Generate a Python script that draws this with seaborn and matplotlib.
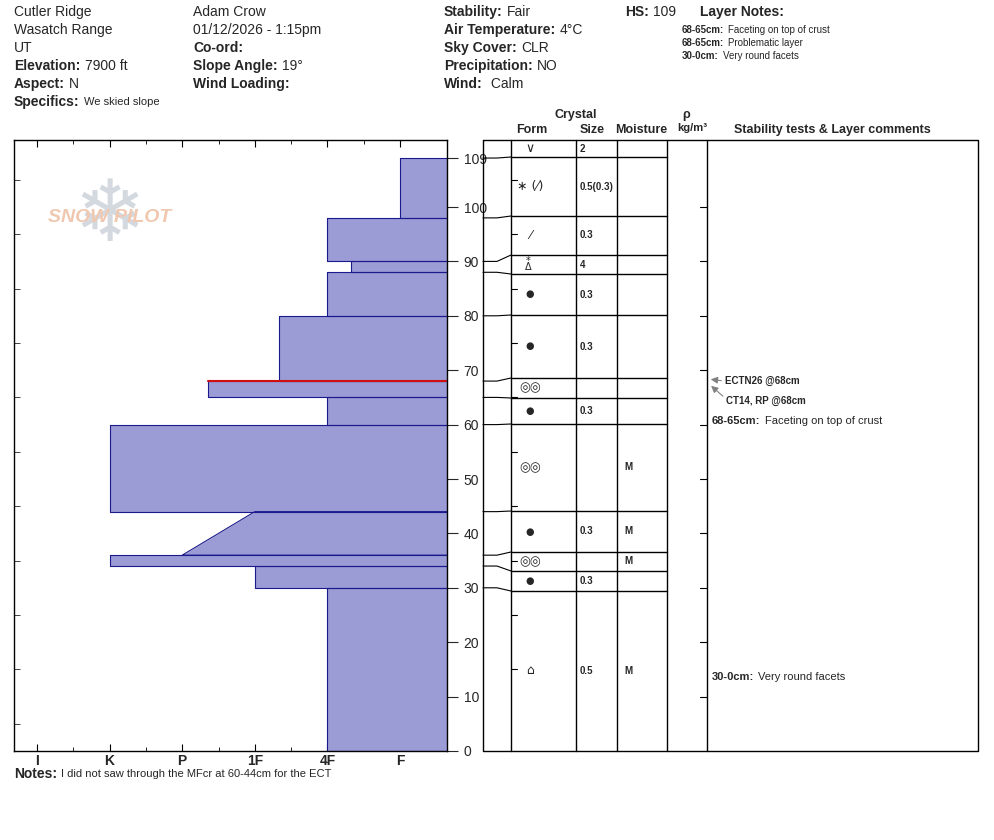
import numpy as np
import seaborn as sns
import matplotlib.pyplot as plt

sns.set_style("white")
plt.rcParams["font.family"] = ["Liberation Sans", "DejaVu Sans"]

# hardness profile (cm top, cm bottom, hardness at top, hardness at bottom); F=1 4F=2 1F=3 P=4 K=5 I=6
layer_top = [109, 98, 90, 88, 80, 68, 65, 60, 44, 36, 34, 30]
layer_bot = [98, 90, 88, 80, 68, 65, 60, 44, 36, 34, 30, 0]
hard_top = [1, 2, 1.67, 2, 2.67, 3.65, 2, 5, 3, 5, 3, 2]
hard_bot = [1, 2, 1.67, 2, 2.67, 3.65, 2, 5, 4, 5, 3, 2]
hard_labels = ["I", "K", "P", "1F", "4F", "F"]
hard_ticks = [6, 5, 4, 3, 2, 1]
crust_line = 68
crust_hard = 3.65

# table rows (form, size, moisture)
row_forms = ["∨", "∗ (⁄)", "⁄", "surface", "●", "●", "◎◎", "●", "◎◎", "●", "◎◎", "●", "⌂"]
row_sizes = ["2", "0.5(0.3)", "0.3", "4", "0.3", "0.3", "", "0.3", "", "0.3", "", "0.3", "0.5"]
row_moist = ["", "", "", "", "", "", "", "", "M", "M", "M", "", "M"]
row_cm = [None, 109, 98, 90, 88, 80, 68, 65, 60, 44, 36, 34, 30]

# layout in pixels
W, H = 994, 840
y0, ytop = 751, 140
px_cm = 5.44
row_px = [140, 157, 216, 255, 274, 315, 378, 398, 424, 511, 552, 571, 591, 751]

fig = plt.figure(figsize=(W / 100, H / 100), dpi=100)

ax = fig.add_axes([14 / W, (H - y0) / H, 433 / W, (y0 - ytop) / H])
for t, b, ht, hb in zip(layer_top, layer_bot, hard_top, hard_bot):
    ax.fill_betweenx([b, t], [hb, ht], 0, color="#9b9bd6", lw=0)
    ax.plot([0.35, hb, ht, 0.35], [b, b, t, t], color="#1a1a8c", lw=0.8)
ax.plot([crust_hard, 0.353], [crust_line, crust_line], color="#d01010", lw=1.5)
ax.set_xticks(hard_ticks)
ax.set_xticklabels(hard_labels, fontweight="bold", fontsize=10)
ax.set_xticks([6 - i * 0.5 for i in range(11)], minor=True)
ax.tick_params(axis="x", which="both", direction="in", top=True, bottom=True, length=5, color="black", pad=2)
ax.tick_params(axis="x", which="minor", length=3)
ax.yaxis.tick_right()
ax.set_yticks(list(range(0, 101, 10)) + [109])
ax.tick_params(axis="y", direction="out", length=8, labelsize=10, right=True, pad=4)
ax.set_yticks(range(5, 110, 5), minor=True)
ax.tick_params(axis="y", which="minor", left=True, right=False, direction="in", length=4)
ax.set_xlim(6.317, 0.353)
ax.set_ylim(0, (y0 - ytop) / px_cm)
for s in ax.spines.values():
    s.set_color("black")
    s.set_linewidth(1)

# logo
ax.text(5.0, 98, "❄", fontsize=62, color="#c8d0d8", ha="center", va="center", family="DejaVu Sans", alpha=0.8, zorder=0)
ax.text(5.0, 98, "SNOW PILOT", fontsize=14, fontweight="bold", color="#f0c8b0", ha="center", va="center",
        fontstyle="italic", zorder=1)

# overlay in pixels
ov = fig.add_axes([0, 0, 1, 1])
ov.set_xlim(0, W)
ov.set_ylim(H, 0)
ov.axis("off")
ov.patch.set_alpha(0)

def cm2px(cm):
    return y0 - cm * px_cm

# table frame
ov.plot([483, 978, 978, 483, 483], [140, 140, 751, 751, 140], color="black", lw=1)
for x in [511, 576, 617, 667, 707]:
    ov.plot([x, x], [140, 751], color="black", lw=1)
for yp in row_px[1:-1]:
    ov.plot([511, 667], [yp, yp], color="black", lw=1)
for cm, yp in zip(row_cm[1:], row_px[1:-1]):
    ov.plot([483, 497, 511], [cm2px(cm), cm2px(cm), yp], color="black", lw=0.8)
for cm in range(10, 110, 10):
    ov.plot([700, 707], [cm2px(cm)] * 2, color="black", lw=0.8)
    ov.plot([511, 517], [cm2px(cm + 5)] * 2, color="black", lw=0.8)

for i, (f, s, m) in enumerate(zip(row_forms, row_sizes, row_moist)):
    yc = (row_px[i] + row_px[i + 1]) / 2
    if f == "surface":
        ov.text(528, yc + 2.5, "Δ", ha="center", va="center", fontsize=7, family="DejaVu Sans")
        ov.text(528, yc - 3.5, "*", ha="center", va="center", fontsize=7, family="DejaVu Sans")
    else:
        fs = 9 if f != "●" else 7
        ov.text(530, yc, f, ha="center", va="center", fontsize=fs, family="DejaVu Sans")
    ov.text(580, yc, s, ha="left", va="center", fontsize=7, fontweight="bold")
    ov.text(624, yc, m, ha="left", va="center", fontsize=7, fontweight="bold")

# headers
ov.text(576, 118, "Crystal", ha="center", fontsize=9, fontweight="bold")
ov.text(532, 133, "Form", ha="center", fontsize=9, fontweight="bold")
ov.text(592, 133, "Size", ha="center", fontsize=9, fontweight="bold")
ov.text(641, 133, "Moisture", ha="center", fontsize=9, fontweight="bold")
ov.text(686, 118, "ρ", ha="center", fontsize=9, fontweight="bold")
ov.text(692, 131, "kg/m³", ha="center", fontsize=8, fontweight="bold")
ov.text(832, 133, "Stability tests & Layer comments", ha="center", fontsize=9, fontweight="bold")

# stability tests
ov.annotate("", xy=(708, 379), xytext=(724, 381), arrowprops=dict(arrowstyle="-|>", color="gray", lw=0.8))
ov.text(725, 381, "ECTN26 @68cm", va="center", fontsize=7, fontweight="bold")
ov.annotate("", xy=(709, 384), xytext=(725, 398), arrowprops=dict(arrowstyle="-|>", color="gray", lw=0.8))
ov.text(726, 401, "CT14, RP @68cm", va="center", fontsize=7, fontweight="bold")

def labeled(x, y, label, value, size=10, vsize=None):
    t = ov.text(x, y, label, fontsize=size, fontweight="bold", va="center")
    ov.annotate(value, xy=(1, 0.5), xycoords=t, xytext=(3, 0), textcoords="offset points",
                fontsize=vsize or size, va="center")

labeled(712, 421, "68-65cm:", "Faceting on top of crust", 8, 8)
labeled(712, 677, "30-0cm:", "Very round facets", 8, 8)

# header info
for i, s in enumerate(["Cutler Ridge", "Wasatch Range", "UT"]):
    ov.text(14, 12 + i * 18, s, fontsize=10, va="center")
labeled(14, 66, "Elevation:", "7900 ft")
labeled(14, 84, "Aspect:", "N")
labeled(14, 102, "Specifics:", "We skied slope", 10, 8)
ov.text(193, 12, "Adam Crow", fontsize=10, va="center")
ov.text(193, 30, "01/12/2026 - 1:15pm", fontsize=10, va="center")
labeled(193, 48, "Co-ord:", "")
labeled(193, 66, "Slope Angle:", "19°")
labeled(193, 84, "Wind Loading:", "")
labeled(444, 12, "Stability:", "Fair")
labeled(444, 30, "Air Temperature:", "4°C")
labeled(444, 48, "Sky Cover:", "CLR")
labeled(444, 66, "Precipitation:", "NO")
labeled(444, 84, "Wind:", " Calm")
labeled(625, 12, "HS:", "109")
ov.text(700, 12, "Layer Notes:", fontsize=10, fontweight="bold", va="center")
labeled(682, 30, "68-65cm:", "Faceting on top of crust", 7, 7)
labeled(682, 43, "68-65cm:", "Problematic layer", 7, 7)
labeled(682, 56, "30-0cm:", "Very round facets", 7, 7)
labeled(14, 774, "Notes:", "I did not saw through the MFcr at 60-44cm for the ECT", 10, 8)

fig.savefig("out.png", dpi=100)
